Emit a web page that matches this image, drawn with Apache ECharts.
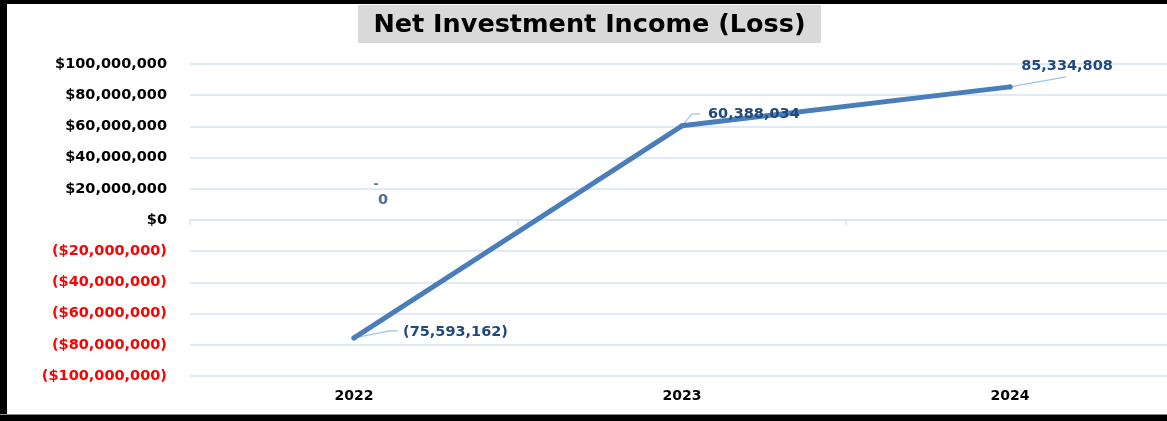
<!DOCTYPE html>
<html>
<head>
<meta charset="utf-8">
<script src="https://cdn.jsdelivr.net/npm/echarts@6/dist/echarts.min.js"></script>
<style>
  html, body { margin: 0; padding: 0; background: #fff; overflow: hidden; }
  #chart { width: 1174px; height: 421px; }
</style>
</head>
<body>
<div id="chart"></div>
<script>
// ---- data ----
const categories = ['2022', '2023', '2024'];
const netInvestmentIncome = [-75593162, 60388034, 85334808];
const zeroDash = [0, null, null];   // Excel accounting "-" zero label
const zeroValue = [0, null, null];  // zero label "0"
const yTicks = { min: -100000000, max: 100000000, interval: 20000000 };

// ---- helpers ----
function fmtNum(v) {
  return Math.abs(v).toString().replace(/\B(?=(\d{3})+(?!\d))/g, ',');
}
function fmtLabel(v) {
  if (v < 0) return '(' + fmtNum(v) + ')';
  if (v === 0) return '-';
  return fmtNum(v);
}
function fmtAxis(v) {
  if (v < 0) return '{n|($' + fmtNum(v) + ')}';
  return '{p|$' + fmtNum(v) + '}';
}

// label offsets and leader-line shapes (styling, relative to each point)
const labelOffsets = [[49, -6, 'left'], [26, -12, 'left'], [57, -21, 'center']];
const leaderShapes = [
  [[0, 0], [36, -7], [44, -7]],
  [[0, 0], [10, -12], [18, -12]],
  [[0, 0], [56, -10]]
];

const chart = echarts.init(document.getElementById('chart'));
const fontFam = 'DejaVu Sans, Verdana, sans-serif';
const lineIdx = categories.map((c, i) => [i, netInvestmentIncome[i]]);

chart.setOption({
  animation: false,
  backgroundColor: '#ffffff',
  grid: { left: 190, right: 0, top: 64, bottom: 45, containLabel: false },
  xAxis: [
    {
      type: 'category',
      data: categories,
      position: 'bottom',
      axisLine: { show: false, onZero: false },
      axisTick: { show: false },
      axisLabel: { color: '#000', fontFamily: fontFam, fontWeight: 'bold', fontSize: 14, margin: 13 }
    },
    {
      type: 'category',
      data: categories,
      position: 'bottom',
      axisLine: { show: true, onZero: true, onZeroAxisIndex: 0, lineStyle: { color: '#d6e3f3', width: 1.5 } },
      axisTick: { show: true, length: 5, lineStyle: { color: '#d6e3f3', width: 1.5 } },
      axisLabel: { show: false }
    }
  ],
  yAxis: {
    type: 'value',
    min: yTicks.min,
    max: yTicks.max,
    interval: yTicks.interval,
    axisLine: { show: false },
    axisTick: { show: false },
    splitLine: { lineStyle: { color: '#d6e3f3', width: 1.5 } },
    axisLabel: {
      margin: 23,
      formatter: fmtAxis,
      rich: {
        n: { color: '#ff0000', fontFamily: fontFam, fontWeight: 'bold', fontSize: 14.5 },
        p: { color: '#000000', fontFamily: fontFam, fontWeight: 'bold', fontSize: 14.5 }
      }
    }
  },
  graphic: [
    { type: 'rect', shape: { x: 358, y: 5, width: 463, height: 38 }, style: { fill: '#d9d9d9' }, z: 10 },
    { type: 'text', x: 589.5, y: 25, z: 11,
      style: { text: 'Net Investment Income (Loss)', fill: '#000', font: 'bold 25.5px "DejaVu Sans", sans-serif',
               textAlign: 'center', textVerticalAlign: 'middle' } },
    { type: 'rect', shape: { x: 0, y: 0, width: 7, height: 421 }, style: { fill: '#000' }, z: 20 },
    { type: 'rect', shape: { x: 0, y: 0, width: 1174, height: 4 }, style: { fill: '#000' }, z: 20 },
    { type: 'rect', shape: { x: 0, y: 415, width: 1174, height: 6 }, style: { fill: '#000' }, z: 20 },
    { type: 'rect', shape: { x: 0, y: 414, width: 1174, height: 1 }, style: { fill: '#888' }, z: 20 }
  ],
  series: [
    {
      name: 'leaders',
      type: 'custom',
      xAxisIndex: 0,
      data: lineIdx,
      silent: true,
      z: 4,
      renderItem: function (params, api) {
        const p = api.coord([api.value(0), api.value(1)]);
        const shape = leaderShapes[params.dataIndex];
        return {
          type: 'polyline',
          shape: { points: shape.map(s => [p[0] + s[0], p[1] + s[1]]) },
          style: { stroke: '#9dc3e6', lineWidth: 1.2, fill: null }
        };
      }
    },
    {
      name: 'Net Investment Income (Loss)',
      type: 'line',
      xAxisIndex: 0,
      data: netInvestmentIncome,
      symbol: 'circle',
      symbolSize: 5,
      showSymbol: true,
      itemStyle: { color: '#4a7ebb' },
      lineStyle: { color: '#4a7ebb', width: 5, cap: 'round', join: 'round' },
      label: {
        show: true,
        formatter: p => fmtLabel(p.value),
        color: '#1f497d',
        fontFamily: fontFam,
        fontWeight: 'bold',
        fontSize: 14.5
      },
      labelLayout: function (params) {
        const c = labelOffsets[params.dataIndex];
        const cx = params.rect.x + params.rect.width / 2;
        const cy = params.rect.y + params.rect.height / 2;
        return { x: cx + c[0], y: cy + c[1], align: c[2], verticalAlign: 'middle' };
      },
      z: 5
    },
    {
      name: 'zeroDash',
      type: 'scatter',
      xAxisIndex: 0,
      data: zeroDash,
      symbolSize: 1,
      itemStyle: { color: 'rgba(255,255,255,0)' },
      label: {
        show: true, position: 'inside', offset: [22, -35],
        formatter: p => fmtLabel(p.value),
        color: '#1f497d', fontFamily: fontFam, fontWeight: 'bold', fontSize: 12
      },
      silent: true
    },
    {
      name: 'zeroValue',
      type: 'scatter',
      xAxisIndex: 0,
      data: zeroValue,
      symbolSize: 1,
      itemStyle: { color: 'rgba(255,255,255,0)' },
      label: {
        show: true, position: 'inside', offset: [29, -20],
        formatter: p => String(p.value),
        color: '#1f497d', fontFamily: fontFam, fontWeight: 'bold', fontSize: 14.5
      },
      silent: true
    }
  ]
});
</script>
</body>
</html>
